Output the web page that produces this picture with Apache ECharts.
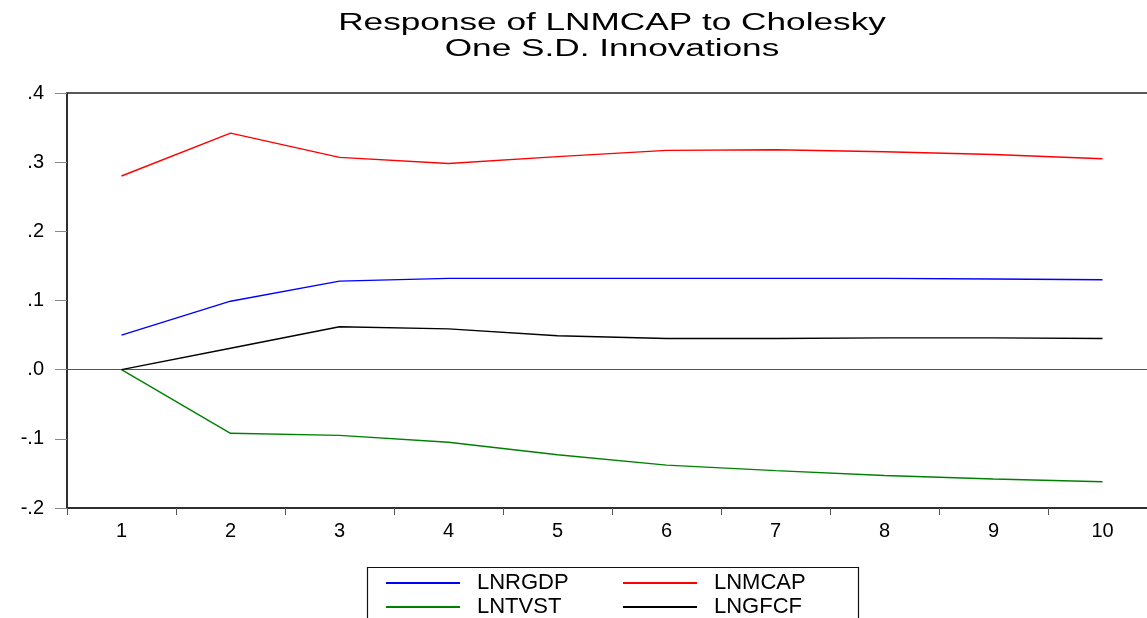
<!DOCTYPE html>
<html>
<head>
<meta charset="utf-8">
<script src="https://cdn.jsdelivr.net/npm/echarts@6/dist/echarts.min.js"></script>
<style>
  html, body { margin: 0; padding: 0; background: #fff; }
  #chart { width: 1147px; height: 618px; }
</style>
</head>
<body>
<div id="chart"></div>
<script>
const titleLines = ['Response of LNMCAP to Cholesky', 'One S.D. Innovations'];
const categories = ['1', '2', '3', '4', '5', '6', '7', '8', '9', '10'];
const lnrgdp = [0.050, 0.099, 0.128, 0.132, 0.132, 0.132, 0.132, 0.132, 0.131, 0.130];
const lnmcap = [0.280, 0.342, 0.307, 0.298, 0.308, 0.317, 0.318, 0.315, 0.311, 0.305];
const lntvst = [0.000, -0.092, -0.095, -0.105, -0.123, -0.138, -0.146, -0.153, -0.158, -0.162];
const lngfcf = [0.000, 0.031, 0.062, 0.059, 0.049, 0.045, 0.045, 0.046, 0.046, 0.045];
const yTicks = { min: -0.2, max: 0.4, interval: 0.1 };

const font = '"Liberation Sans", Arial, sans-serif';
const chart = echarts.init(document.getElementById('chart'), null, { renderer: 'canvas' });

function fmtY(v) {
  const s = (Math.round(v * 10) / 10).toFixed(1);
  return s.replace(/^(-?)0\./, '$1.');
}

function lineSeries(name, data, color, extra) {
  return Object.assign({
    name: name,
    type: 'line',
    data: data,
    symbol: 'none',
    lineStyle: { color: color, width: 1.4 },
    itemStyle: { color: color },
    z: 3
  }, extra || {});
}

const legendCommon = {
  orient: 'vertical',
  icon: 'rect',
  itemWidth: 74,
  itemHeight: 2,
  itemGap: 2,
  height: 90,
  padding: 0,
  textStyle: { fontFamily: font, fontSize: 22, color: '#000', lineHeight: 22, padding: [0, 0, 0, 12] },
  selectedMode: false
};

chart.setOption({
  animation: false,
  backgroundColor: '#fff',
  graphic: [{
    type: 'text',
    x: 612,
    y: 11,
    scaleX: 1.53,
    silent: true,
    style: {
      text: titleLines.join('\n'),
      font: 'normal 23px ' + font,
      fill: '#000',
      align: 'center',
      verticalAlign: 'top',
      lineHeight: 26
    }
  }, {
    type: 'rect',
    shape: { x: 367.5, y: 567.5, width: 491, height: 70 },
    style: { fill: 'none', stroke: '#111', lineWidth: 1.2 },
    silent: true,
    z: 1
  }],
  grid: {
    left: 67, top: 93, width: 1090, height: 415,
    outerBoundsMode: 'none',
    containLabel: false,
    show: true, borderColor: '#222', borderWidth: 1.5, backgroundColor: 'transparent'
  },
  legend: [
    Object.assign({}, legendCommon, { left: 386, top: 572, data: ['LNRGDP', 'LNTVST'] }),
    Object.assign({}, legendCommon, { left: 623, top: 572, data: ['LNMCAP', 'LNGFCF'] })
  ],
  xAxis: {
    type: 'category',
    data: categories,
    boundaryGap: true,
    axisLine: { show: true, onZero: false, lineStyle: { color: '#222', width: 1.5 } },
    axisTick: { show: true, length: 7, lineStyle: { color: '#555', width: 1 } },
    axisLabel: { fontFamily: font, fontSize: 20, color: '#000', margin: 13 },
    splitLine: { show: false }
  },
  yAxis: {
    type: 'value',
    min: yTicks.min, max: yTicks.max, interval: yTicks.interval,
    axisLine: { show: true, lineStyle: { color: '#222', width: 1.5 } },
    axisTick: { show: true, length: 12, lineStyle: { color: '#888', width: 1 } },
    axisLabel: { fontFamily: font, fontSize: 20, color: '#000', margin: 23, formatter: fmtY },
    splitLine: { show: false }
  },
  series: [
    lineSeries('LNRGDP', lnrgdp, '#0000ff', {
      markLine: {
        silent: true,
        symbol: ['none', 'none'],
        label: { show: false },
        lineStyle: { color: '#555', type: 'solid', width: 1.2 },
        data: [{ yAxis: 0 }],
        z: 2
      }
    }),
    lineSeries('LNMCAP', lnmcap, '#ff0000'),
    lineSeries('LNTVST', lntvst, '#008000'),
    lineSeries('LNGFCF', lngfcf, '#000000')
  ]
});
</script>
</body>
</html>
